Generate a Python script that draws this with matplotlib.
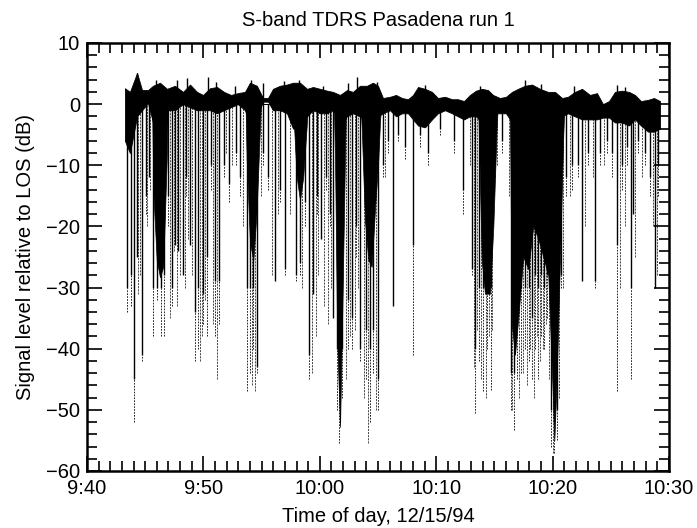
import matplotlib.pyplot as plt
from matplotlib.ticker import MultipleLocator

# all times are minutes after 9:40
# dense trace around line-of-sight level
band_t = [3.26, 3.69, 4.30, 4.73, 5.24, 5.67, 6.27, 6.87, 7.56, 8.25, 8.85, 9.45, 9.97,
          10.57, 11.17, 11.77, 12.37, 12.97, 13.57, 14.00, 14.60, 15.12, 15.55, 15.98,
          16.58, 17.18, 17.70, 18.30, 18.90, 19.42, 20.02, 20.62, 21.13, 21.74, 22.34,
          22.85, 23.45, 24.05, 24.57, 25.00, 25.43, 26.03, 26.55, 27.06, 27.58, 28.01,
          28.44, 29.04, 29.64, 30.15, 30.76, 31.36, 31.87, 32.39, 32.90, 33.42, 33.93,
          34.45, 34.88, 35.48, 36.00, 36.51, 37.03, 37.63, 38.23, 38.92, 39.60, 40.21,
          40.81, 41.32, 41.92, 42.53, 43.21, 43.81, 44.33, 44.85, 45.36, 45.96, 46.56,
          47.08, 47.59, 48.20, 48.71, 49.23]
band_hi = [2.6, 2.0, 5.1, 2.3, 2.3, 3.0, 3.5, 2.5, 3.0, 2.0, 3.2, 2.0, 1.5,
           2.6, 2.8, 2.0, 1.5, 1.8, 2.0, 3.5, 3.0, 1.0, 1.0, 2.5,
           3.0, 3.2, 3.5, 3.5, 2.5, 2.8, 2.5, 2.2, 2.0, 1.5, 2.3,
           2.0, 3.0, 3.0, 3.5, 3.0, 1.0, 1.2, 1.5, 1.0, 0.8, 1.5,
           2.8, 2.5, 2.0, 1.0, 1.2, 0.8, 0.8, 0.5, 1.5, 2.2, 2.5,
           2.3, 1.5, 1.0, 1.2, 2.0, 2.5, 3.0, 3.2, 2.5, 2.0, 2.0,
           1.0, 1.2, 2.0, 2.5, 1.5, 1.8, 0.0, 0.5, 2.0, 2.2, 2.0,
           1.5, 0.5, 0.7, 1.0, 0.5]
band_lo = [-6, -8, -2, -1, 0.2, -3, -3, -1, -1, 0, -0.5, -1, -1,
           -1, -1.5, -1, -0.5, 0, -1, -3, -2, 0.4, 0.4, -1,
           -1, -1.5, -4, -4, -2, -1, -1.5, -1.5, -1, -3, -2,
           -1.5, -2, -3, -3, -2, -1.5, -1.0, -2.0, -1.5, -1.5, -2.5,
           -3.5, -3.8, -2.5, -1.5, -1.0, -1.5, -2.0, -2.5, -2.0, -2, -3,
           -3, -1.5, -1.5, -1.5, -3, -3, -3, -3, -3, -3, -3,
           -2, -1.5, -2, -2.5, -2.5, -2.5, -2.2, -2.2, -3, -3, -3.5,
           -2.5, -3.5, -4.5, -4.5, -4]

# upward excursions of the trace
spike_t = [4.30, 5.90, 7.70, 8.60, 10.40, 11.10, 12.70, 14.10, 15.10, 16.90, 18.20,
           20.30, 22.40, 23.20, 24.90, 29.00, 33.80, 37.60, 39.00, 41.80, 45.50, 46.20]
spike_top = [5.1, 4.0, 3.9, 4.2, 4.4, 3.6, 3.0, 4.0, 3.4, 3.8, 4.0,
             3.0, 3.5, 4.4, 3.6, 3.2, 3.0, 4.0, 3.3, 3.0, 3.2, 2.8]

# tapered deep fades (floor of the solid black part)
deep_t = [5.60, 5.70, 5.99, 6.27, 6.55, 6.85, 6.95,
          13.62, 13.72, 14.00, 14.29, 14.58, 14.86, 14.95,
          17.62, 17.72, 18.01, 18.30, 18.58, 18.87, 18.97,
          21.21, 21.31, 21.50, 21.74, 21.96, 22.16, 22.26,
          23.50, 23.60, 23.88, 24.17, 24.46, 24.74, 25.03, 25.17, 25.27,
          33.52, 33.62, 33.91, 34.19, 34.62, 34.91, 35.20, 35.30,
          36.24, 36.34, 36.49, 36.77, 37.05, 37.48, 37.91, 38.34, 38.77, 39.20, 39.63,
          39.97, 40.15, 40.35, 40.64, 40.92, 41.02]
deep_floor = [0, -14.5, -25.5, -28.3, -26.6, -9, 0,
              0, -9, -22.7, -25.5, -17.3, -3.7, 0,
              0, -1, -11.9, -15.7, -11.9, -3.7, 0,
              0, -9, -39, -52.8, -31, -9, 0,
              0, -3.7, -19, -25.5, -26.6, -17.3, -9, -3, 0,
              0, -1, -25.5, -31, -31, -20, -3.7, 0,
              0, -1, -36, -41, -35, -25, -27, -20, -22, -25, -28,
              -45, -55, -45, -25, -5, 0]

# individual fades: time, bottom of solid part (dB), bottom of dotted tail (dB)
fade_t = [3.44, 3.78, 4.04, 4.30, 4.73, 5.07, 5.33, 5.67, 6.01, 6.36, 6.62, 6.96, 7.30,
          7.56, 7.82, 8.25, 8.51, 8.85, 9.28, 9.54, 9.97, 10.31, 10.65, 11.00, 11.34,
          11.77, 12.20, 12.80, 13.14, 13.75, 14.00, 14.26, 14.60, 15.12, 15.55, 16.15,
          16.58, 17.01, 17.96, 18.30, 18.73, 19.07, 19.42, 19.76, 20.10, 20.53, 20.88,
          21.13, 21.48, 21.65, 21.91, 22.42, 22.77, 23.11, 23.45, 23.97, 24.31, 24.57,
          25.00, 25.43, 25.86, 26.29, 26.72, 27.32, 28.01, 28.61, 29.30, 30.33, 31.53,
          32.30, 33.08, 33.33, 33.68, 34.02, 34.36, 34.71, 35.05, 35.65, 36.43, 36.68,
          36.94, 37.29, 37.63, 37.97, 38.23, 38.49, 38.75, 39.00, 39.26, 39.52, 39.86,
          40.12, 40.38, 40.72, 41.15, 41.67, 42.18, 42.53, 43.04, 43.64, 44.07, 44.67,
          45.10, 45.53, 45.96, 46.39, 46.74, 46.91, 47.34, 47.94, 48.37, 48.80, 49.05]
fade_solid = [-30, -28, -45, -25, -41, -15, -12, -30, -30, -30, -28, -15, -30,
              -23, -24, -28, -12, -23, -34, -30, -31, -25, -10, -29, -29,
              -10, -13, -8, -12, -30, -30, -30, -43, -8, -12, -29,
              -14, -27, -28, -26, -16, -41, -31, -15, -22, -12, -18,
              -35, -40, -42, -40, -32, -35, -20, -40, -37, -40, -37,
              -45, -10, -6, -33, -5, -7, -23, -5, -8, -4, -6,
              -14, -27, -40, -30, -30, -30, -30, -8, -6, -44, -44,
              -35, -30, -30, -30, -35, -28, -30, -28, -30, -28, -50,
              -52, -50, -28, -12, -10, -10, -29, -8, -29, -8, -6,
              -8, -23, -10, -7, -30, -18, -6, -8, -12, -30, -10]
fade_tail = [-34, -33, -52, -25, -42, -18, -12, -38, -32, -38, -38, -20, -33,
             -23, -24, -28, -15, -23, -42, -40, -36, -38, -14, -38, -36,
             -12, -16, -10, -15, -47, -44, -40, -44, -10, -14, -29,
             -16, -28, -29, -28, -20, -45, -31, -18, -22, -14, -20,
             -35, -50, -55.4, -48, -40, -40, -25, -42, -45, -52, -44,
             -50, -12, -8, -33, -6, -9, -41, -7, -10, -5, -8,
             -18, -28, -50.5, -42, -47, -40, -46.8, -12, -8, -50, -53.3,
             -45, -44, -40, -42, -45, -40, -45, -38, -40, -35, -56,
             -57, -55, -30, -15, -14, -12, -29, -10, -30, -10, -8,
             -12, -47, -14, -10, -45, -18, -8, -10, -15, -30, -15]

# faint scattered fade traces: time, lowest level (dB)
thin_t = [4.38, 4.55, 5.15, 5.41, 7.13, 7.47, 7.73, 7.99, 8.42, 8.68, 9.02, 9.71, 9.88,
          10.14, 10.82, 11.17, 11.94, 12.46, 13.40, 14.18, 14.43, 14.95, 15.89, 16.41,
          17.44, 18.47, 19.33, 19.67, 19.85, 20.36, 20.70, 20.96, 22.25, 22.60, 23.02,
          23.28, 23.80, 24.14, 24.83, 25.60, 32.90, 33.25, 33.51, 33.85, 34.28, 34.54,
          34.79, 35.22, 36.25, 36.51, 37.11, 37.46, 37.80, 38.06, 38.40, 38.66, 38.92,
          39.18, 39.43, 39.69, 40.03, 40.55, 40.89, 41.49, 42.78, 43.47, 44.42, 45.79,
          46.22, 47.08, 47.68, 48.63, 48.97]
thin_bot = [-31, -28, -20, -14, -35, -24, -33, -28, -30, -22, -28, -42, -38,
            -32, -36, -45, -8, -10, -20, -46, -47, -15, -28, -18,
            -18, -30, -44, -38, -28, -33, -36, -30, -45, -38, -37,
            -30, -48, -55.5, -50, -12, -10, -43, -37, -45, -48, -38,
            -37, -10, -15, -50, -48, -44, -46, -40, -48, -38, -42,
            -40, -36, -45, -57, -48, -30, -15, -20, -12, -10, -30,
            -20, -25, -12, -20, -28]

tick_pos = [0, 10, 20, 30, 40, 50]
tick_lab = ['9:40', '9:50', '10:00', '10:10', '10:20', '10:30']

plt.rcParams['font.family'] = ['Liberation Sans', 'DejaVu Sans']
fig = plt.figure(figsize=(6.97, 5.28), dpi=100)
ax = fig.add_axes([0.1248, 0.108, 0.835, 0.8106])

ax.fill_between(band_t, band_lo, band_hi, color='black', lw=0.6)
ax.vlines(spike_t, 0, spike_top, color='black', lw=1.0)
ax.fill_between(deep_t, deep_floor, 0, color='black', lw=0.5)
ax.vlines(thin_t, thin_bot, 0, color='black', lw=0.5, linestyles=(0, (3, 1.5)))
ax.vlines(fade_t, fade_solid, 0, color='black', lw=1.0)
ax.vlines(fade_t, fade_tail, fade_solid, color='black', lw=0.6, linestyles=(0, (2, 1.5)))

ax.set_xlim(0, 50)
ax.set_ylim(-60, 10)
ax.set_xticks(tick_pos)
ax.set_xticklabels(tick_lab)
ax.xaxis.set_minor_locator(MultipleLocator(1))
ax.yaxis.set_major_locator(MultipleLocator(10))
ax.yaxis.set_minor_locator(MultipleLocator(2))
ax.tick_params(which='both', direction='in', top=True, right=True, labelsize=14.5, width=1.2)
ax.tick_params(axis='x', which='both', pad=6)
ax.tick_params(axis='y', which='both', pad=5)
ax.tick_params(which='major', length=11)
ax.tick_params(which='minor', length=7)
for sp in ax.spines.values():
    sp.set_linewidth(1.8)

ax.set_title('S-band TDRS Pasadena run 1', fontsize=14.5, pad=12)
ax.set_xlabel('Time of day, 12/15/94', fontsize=14.5, labelpad=6)
ax.set_ylabel('Signal level relative to LOS (dB)', fontsize=14.5, labelpad=8)

fig.savefig('out.png', dpi=100)
